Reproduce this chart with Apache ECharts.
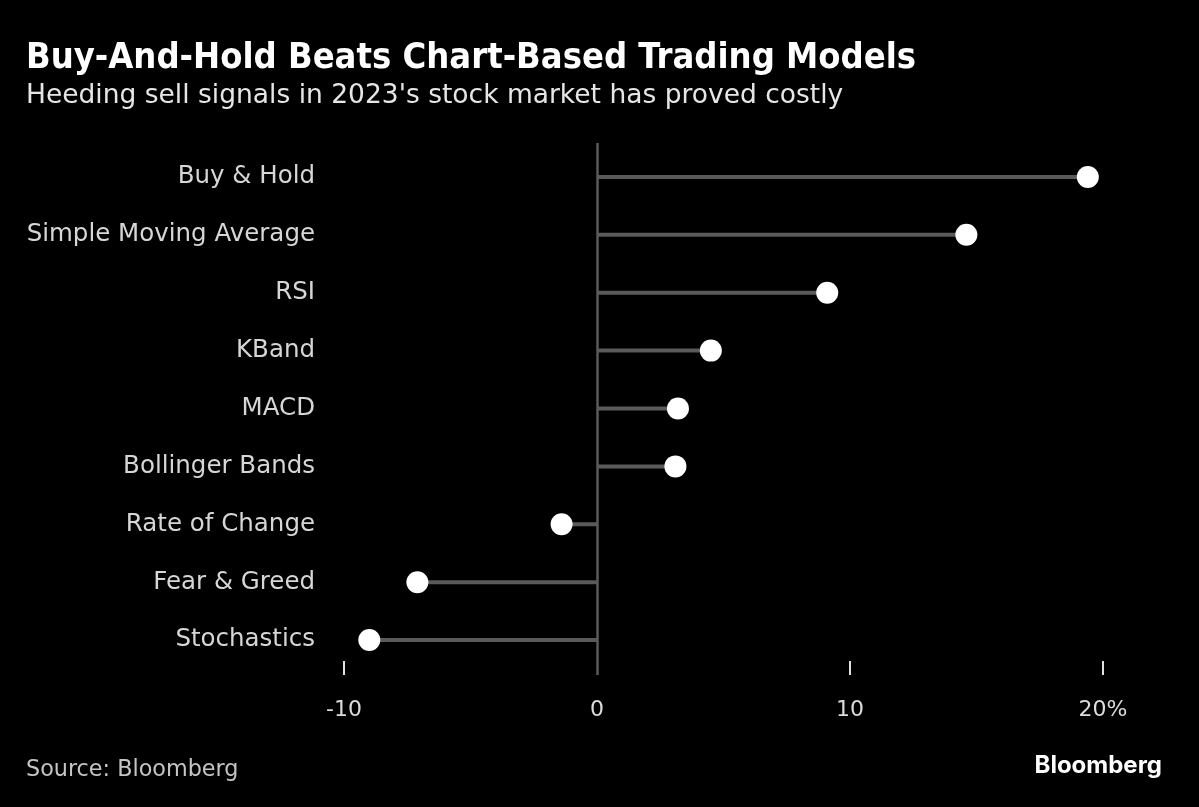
<!DOCTYPE html>
<html><head><meta charset="utf-8">
<script src="https://cdn.jsdelivr.net/npm/echarts@6/dist/echarts.min.js"></script>
<style>html,body{margin:0;padding:0;background:#000;}#c{width:1199px;height:807px;}</style>
</head><body><div id="c"></div>
<script>
const categories = ['Buy & Hold','Simple Moving Average','RSI','KBand','MACD','Bollinger Bands','Rate of Change','Fear & Greed','Stochastics'];
const returns = [19.4, 14.6, 9.1, 4.5, 3.2, 3.1, -1.4, -7.1, -9.0];
const tickValues = [-10, 0, 10, 20];

const FONT = '"DejaVu Sans", sans-serif';
const FONTC = '"DejaVu Sans Condensed", "DejaVu Sans", sans-serif';
const chart = echarts.init(document.getElementById('c'));
chart.setOption({
  backgroundColor: '#000',
  animation: false,
  title: [
    {text: 'Buy-And-Hold Beats Chart-Based Trading Models', left: 26, top: 41, padding: 0,
     textStyle: {color: '#fff', fontFamily: FONTC, fontWeight: 'bold', fontSize: 36}},
    {text: "Heeding sell signals in 2023's stock market has proved costly", left: 26, top: 83, padding: 0,
     textStyle: {color: '#e6e6e6', fontFamily: FONT, fontWeight: 'normal', fontSize: 26.5}},
    {text: 'Source: Bloomberg', left: 26, top: 759, padding: 0,
     textStyle: {color: '#c4c4c4', fontFamily: FONT, fontWeight: 'normal', fontSize: 22.3}},
    {text: 'Bloomberg', right: 37, top: 754, padding: 0,
     textStyle: {color: '#fff', fontFamily: 'Inter, "Liberation Sans", sans-serif', fontWeight: 'bold', fontSize: 24}}
  ],
  grid: [
    {left: 344, right: 96, top: 148, bottom: 138},
    {left: 344, right: 96, top: 143, bottom: 132}
  ],
  xAxis: [
    {type: 'value', gridIndex: 0, min: -10, max: 20, interval: 10, offset: -8,
     axisLine: {show: false},
     axisTick: {show: true, length: 14, customValues: [-10, 10, 20], lineStyle: {color: '#e0e0e0', width: 2}},
     splitLine: {show: false},
     axisLabel: {customValues: tickValues, margin: 38, color: '#dcdcdc', fontFamily: FONT, fontSize: 22,
       formatter: v => v === 20 ? v + '%' : String(v)}},
    {type: 'value', gridIndex: 1, min: -10, max: 20, show: false}
  ],
  yAxis: [
    {type: 'category', gridIndex: 0, data: categories, inverse: true,
     axisLine: {show: false}, axisTick: {show: false}, splitLine: {show: false},
     axisLabel: {margin: 29, color: '#d6d6d6', fontFamily: FONT, fontSize: 24.5}},
    {type: 'value', gridIndex: 1, show: false, min: 0, max: 1}
  ],
  series: [
    {type: 'line', xAxisIndex: 1, yAxisIndex: 1, data: [], silent: true,
     markLine: {symbol: 'none', silent: true, label: {show: false},
       lineStyle: {color: '#5a5a5a', width: 2.5, type: 'solid'},
       data: [{xAxis: 0}]}},
    {type: 'bar', data: returns, barWidth: 4, itemStyle: {color: '#5a5a5a'}, silent: true, z: 2},
    {type: 'scatter', data: returns, symbol: 'circle', symbolSize: 22,
     itemStyle: {color: '#fff', opacity: 1}, z: 3}
  ]
});
</script></body></html>
